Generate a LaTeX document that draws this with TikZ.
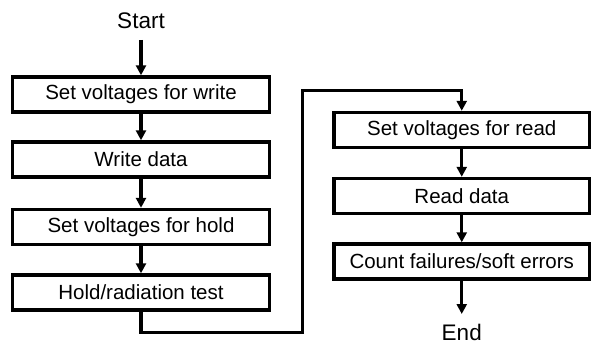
\documentclass[tikz,border=0pt]{standalone}
\usepackage{fontspec}
\setmainfont{Liberation Sans}
\usetikzlibrary{arrows.meta}
\begin{document}
\begin{tikzpicture}[x=1pt,y=-1pt,
  stepbox/.style={draw=black, line width=3.4pt, rectangle, inner sep=0pt,
    minimum height=35pt, font=\fontsize{20.5}{24}\selectfont},
  leftbox/.style={stepbox, minimum width=257pt},
  rightbox/.style={stepbox, minimum width=255.5pt},
  term/.style={anchor=base, inner sep=0pt, font=\fontsize{22.5}{26}\selectfont},
  flow/.style={line width=3.2pt, -{Triangle[length=10pt,width=10pt]}}
]
\useasboundingbox (0,0) rectangle (593,344);

% left column
\node[term] (start) at (141,29) {Start};
\coordinate (startout) at (141,40);
\node[leftbox] (w1) at (141,94.5) {Set voltages for write};
\node[leftbox] (w2) at (141,159.5) {Write data};
\node[leftbox] (w3) at (141,227) {Set voltages for hold};
\node[leftbox] (w4) at (141,292.5) {Hold/radiation test};

% right column
\node[rightbox] (r1) at (461.75,130) {Set voltages for read};
\node[rightbox] (r2) at (461.75,196) {Read data};
\node[rightbox] (r3) at (461.75,261.5) {Count failures/soft errors};
\node[term] (end) at (461.75,340) {End};
\coordinate (endin) at (461.75,314);

% connectors
\draw[flow] (startout) -- (w1.north);
\draw[flow] (w1) -- (w2);
\draw[flow] (w2) -- (w3);
\draw[flow] (w3) -- (w4);
\coordinate (c1) at (141,332.5);
\coordinate (c2) at (302.7,332.5);
\coordinate (c3) at (302.7,90.7);
\coordinate (c4) at (461.75,90.7);
\draw[flow, line join=miter] (w4.south) -- (c1) -- (c2) -- (c3) -- (c4) -- (r1.north);
\draw[flow] (r1) -- (r2);
\draw[flow] (r2) -- (r3);
\draw[flow] (r3.south) -- (endin);
\end{tikzpicture}
\end{document}
